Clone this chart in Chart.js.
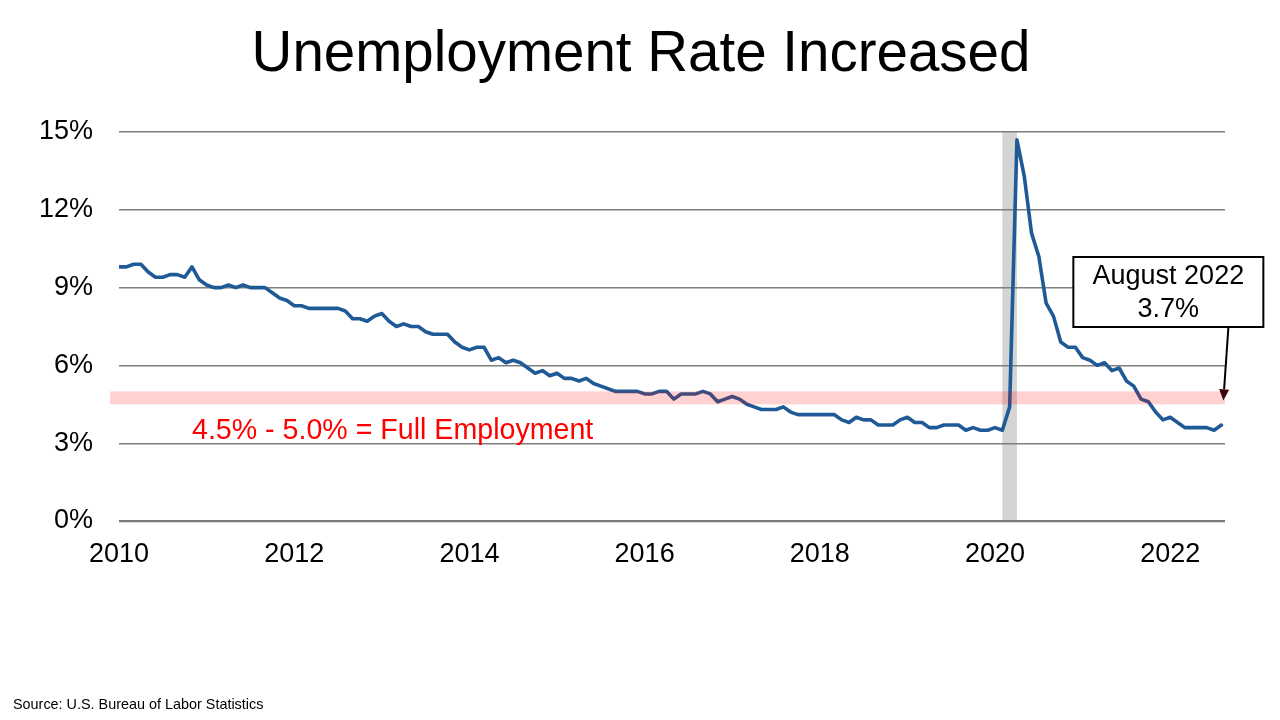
<!DOCTYPE html>
<html>
<head>
<meta charset="utf-8">
<script src="https://cdn.jsdelivr.net/npm/chart.js@4.4.1/dist/chart.umd.min.js"></script>
<style>
  html, body { margin: 0; padding: 0; background: #ffffff; }
  #wrap { position: relative; width: 1280px; height: 720px; overflow: hidden; }
  #title { position: absolute; left: 1px; top: 24px; width: 1280px; text-align: center;
           font-family: 'Liberation Sans', Arial, sans-serif; font-size: 56.5px; line-height: 56px; color: #000; }
  #source { position: absolute; left: 13px; top: 697px; font-family: 'Liberation Sans', Arial, sans-serif;
            font-size: 14.4px; line-height: 14.5px; color: #000; }
  canvas { position: absolute; left: 0; top: 0; }
</style>
</head>
<body>
<div id="wrap">
  <canvas id="c" width="1280" height="720"></canvas>
  <div id="title">Unemployment Rate Increased</div>
  <div id="source">Source: U.S. Bureau of Labor Statistics</div>
</div>
<script>
// Monthly unemployment rate (%), Jan 2010 – Aug 2022
const rate2010 = [9.8, 9.8, 9.9, 9.9, 9.6, 9.4, 9.4, 9.5, 9.5, 9.4, 9.8, 9.3];
const rate2011 = [9.1, 9.0, 9.0, 9.1, 9.0, 9.1, 9.0, 9.0, 9.0, 8.8, 8.6, 8.5];
const rate2012 = [8.3, 8.3, 8.2, 8.2, 8.2, 8.2, 8.2, 8.1, 7.8, 7.8, 7.7, 7.9];
const rate2013 = [8.0, 7.7, 7.5, 7.6, 7.5, 7.5, 7.3, 7.2, 7.2, 7.2, 6.9, 6.7];
const rate2014 = [6.6, 6.7, 6.7, 6.2, 6.3, 6.1, 6.2, 6.1, 5.9, 5.7, 5.8, 5.6];
const rate2015 = [5.7, 5.5, 5.5, 5.4, 5.5, 5.3, 5.2, 5.1, 5.0, 5.0, 5.0, 5.0];
const rate2016 = [4.9, 4.9, 5.0, 5.0, 4.7, 4.9, 4.9, 4.9, 5.0, 4.9, 4.6, 4.7];
const rate2017 = [4.8, 4.7, 4.5, 4.4, 4.3, 4.3, 4.3, 4.4, 4.2, 4.1, 4.1, 4.1];
const rate2018 = [4.1, 4.1, 4.1, 3.9, 3.8, 4.0, 3.9, 3.9, 3.7, 3.7, 3.7, 3.9];
const rate2019 = [4.0, 3.8, 3.8, 3.6, 3.6, 3.7, 3.7, 3.7, 3.5, 3.6, 3.5, 3.5];
const rate2020 = [3.6, 3.5, 4.4, 14.7, 13.3, 11.1, 10.2, 8.4, 7.9, 6.9, 6.7, 6.7];
const rate2021 = [6.3, 6.2, 6.0, 6.1, 5.8, 5.9, 5.4, 5.2, 4.7, 4.6, 4.2, 3.9];
const rate2022 = [4.0, 3.8, 3.6, 3.6, 3.6, 3.6, 3.5, 3.7];

const rates = [].concat(rate2010, rate2011, rate2012, rate2013, rate2014, rate2015,
  rate2016, rate2017, rate2018, rate2019, rate2020, rate2021, rate2022);

// x tick labels (month index of January of each labelled year)
const tickLabels = ['2010', '2012', '2014', '2016', '2018', '2020', '2022'];
const tickIndices = [0, 24, 48, 72, 96, 120, 144];
const yTicks = [0, 3, 6, 9, 12, 15];

// Recession shading (month indices Feb 2020 – Apr 2020) and full-employment band (%)
const recession = [121, 123];
const fullEmployment = [4.5, 5.0];
const bandLabel = '4.5% - 5.0% = Full Employment';
const calloutLines = ['August 2022', '3.7%'];

const FONT = "'Liberation Sans', Arial, sans-serif";

const points = rates.map((v, i) => ({ x: i, y: v }));

const decor = {
  id: 'decor',
  beforeDraw(chart) {
    const { ctx, chartArea, scales } = chart;
    const x0 = scales.x.getPixelForValue(recession[0]);
    const x1 = scales.x.getPixelForValue(recession[1]);
    ctx.save();
    ctx.fillStyle = '#d4d4d4';
    ctx.fillRect(x0, chartArea.top, x1 - x0, chartArea.bottom - chartArea.top);
    ctx.restore();
  },
  afterDatasetsDraw(chart) {
    const { ctx, chartArea, scales } = chart;
    const yS = scales.y, xS = scales.x;
    ctx.save();
    // full employment band (semi-transparent, over the line)
    const yTop = yS.getPixelForValue(fullEmployment[1]);
    const yBot = yS.getPixelForValue(fullEmployment[0]);
    ctx.fillStyle = 'rgba(255,0,0,0.18)';
    ctx.fillRect(chartArea.left - 9, yTop, chartArea.right - chartArea.left + 9, yBot - yTop);

    // band label
    ctx.fillStyle = '#ff0000';
    ctx.font = '28.6px ' + FONT;
    ctx.textAlign = 'left';
    ctx.textBaseline = 'middle';
    ctx.fillText(bandLabel, chartArea.left + 73, yBot + 27);

    // callout box
    const lastIdx = rates.length - 1;
    const lastX = xS.getPixelForValue(lastIdx);
    const boxW = 190, boxH = 70;
    const boxCx = lastX - 53;
    const boxTop = chartArea.top + 125;
    ctx.fillStyle = '#ffffff';
    ctx.fillRect(boxCx - boxW / 2, boxTop, boxW, boxH);
    ctx.lineWidth = 2;
    ctx.strokeStyle = '#000000';
    ctx.strokeRect(boxCx - boxW / 2, boxTop, boxW, boxH);
    ctx.fillStyle = '#000000';
    ctx.font = '27px ' + FONT;
    ctx.textAlign = 'center';
    ctx.textBaseline = 'middle';
    ctx.fillText(calloutLines[0], boxCx, boxTop + 20);
    ctx.fillText(calloutLines[1], boxCx, boxTop + 53);

    // arrow
    const sx = lastX + 7, sy = boxTop + boxH + 1;
    const tx = lastX + 2, ty = yS.getPixelForValue(4.65);
    const ang = Math.atan2(ty - sy, tx - sx);
    const headLen = 11, headW = 5;
    const bx = tx - headLen * Math.cos(ang), by = ty - headLen * Math.sin(ang);
    ctx.beginPath();
    ctx.moveTo(sx, sy);
    ctx.lineTo(bx, by);
    ctx.lineWidth = 2;
    ctx.strokeStyle = '#000000';
    ctx.stroke();
    ctx.beginPath();
    ctx.moveTo(tx, ty);
    ctx.lineTo(bx + headW * Math.sin(ang), by - headW * Math.cos(ang));
    ctx.lineTo(bx - headW * Math.sin(ang), by + headW * Math.cos(ang));
    ctx.closePath();
    ctx.fillStyle = '#3d0606';
    ctx.fill();
    ctx.restore();
  }
};

new Chart(document.getElementById('c'), {
  type: 'line',
  data: {
    datasets: [{
      label: 'Unemployment rate',
      data: points,
      borderColor: '#1f5a96',
      borderWidth: 3.6,
      pointRadius: 0,
      tension: 0,
      borderJoinStyle: 'round',
      borderCapStyle: 'round',
      fill: false
    }]
  },
  options: {
    responsive: false,
    animation: false,
    layout: { padding: { left: 39, right: 55, top: 132, bottom: 149 } },
    plugins: { legend: { display: false }, tooltip: { enabled: false }, title: { display: false } },
    scales: {
      x: {
        type: 'linear',
        min: 0,
        max: 151.5,
        afterBuildTicks: (axis) => { axis.ticks = tickIndices.map(v => ({ value: v })); },
        afterFit: (axis) => { axis.height = 50; },
        grid: { display: false, drawTicks: false },
        border: { display: false },
        ticks: {
          autoSkip: false,
          maxRotation: 0,
          padding: 17,
          color: '#000000',
          font: { family: FONT, size: 27 },
          callback: (v) => { const i = tickIndices.indexOf(v); return i >= 0 ? tickLabels[i] : ''; }
        }
      },
      y: {
        min: 0,
        max: 15,
        afterBuildTicks: (axis) => { axis.ticks = yTicks.map(v => ({ value: v })); },
        afterFit: (axis) => { axis.width = 80; },
        grid: {
          drawTicks: false,
          color: (c) => c.tick && c.tick.value === 0 ? '#7a7a7a' : '#7f7f7f',
          lineWidth: (c) => c.tick && c.tick.value === 0 ? 2.2 : 1.4
        },
        border: { display: false },
        ticks: {
          padding: 26,
          color: '#000000',
          font: { family: FONT, size: 27 },
          callback: (v) => v + '%'
        }
      }
    }
  },
  plugins: [decor]
});
</script>
</body>
</html>
